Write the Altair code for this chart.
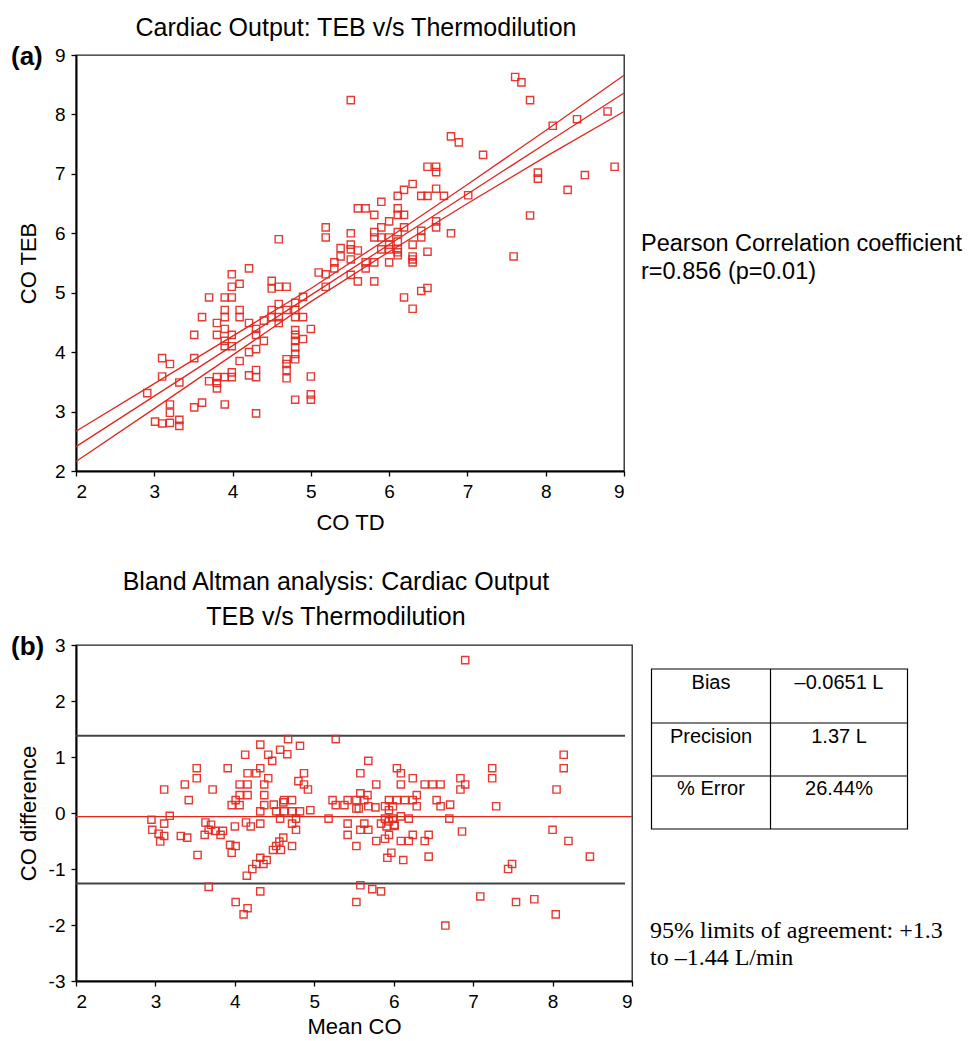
import altair as alt
import pandas as pd

RED = "#e3261c"
FONT = "Liberation Sans"

# ---------------- Panel (a): CO TEB vs CO TD ----------------
td_x = [5.51, 7.61, 7.69, 7.80, 8.79, 8.40, 8.09, 6.79, 6.89, 7.20, 8.88, 7.90, 7.90, 8.50, 8.28, 7.80, 7.59,
        6.49, 6.60, 6.60, 6.30, 6.19, 6.11, 6.41, 6.49, 6.70, 6.60, 7.01,
        5.90, 5.60, 5.70, 6.11, 5.81, 6.11, 6.19, 6.00, 5.90, 6.19, 6.60, 6.60,
        5.51, 5.81, 5.81, 5.90, 6.11, 6.41, 6.41, 6.79,
        5.51, 6.00, 6.00, 6.11, 6.30,
        5.51, 5.60, 5.90, 6.00, 6.11, 6.11, 6.30, 6.30, 6.49,
        5.51, 5.70, 5.81, 6.00, 6.11,
        5.51, 5.60, 5.81, 5.70, 6.30, 6.41, 6.49, 6.19, 6.30,
        5.19, 5.19, 4.59, 5.38, 5.38, 5.30,
        4.21, 3.99, 3.99, 4.09, 3.70, 3.90, 3.99, 4.50, 4.50, 4.59, 4.69, 5.10, 5.19, 5.30, 5.19,
        4.59, 4.69, 4.80, 4.80, 4.90, 4.50, 4.50, 4.59, 4.59, 4.40, 4.80, 4.90,
        3.90, 3.90, 4.09, 4.09, 4.21, 3.61, 3.80, 3.90, 3.80, 3.51, 3.99, 4.30, 4.30, 3.90, 3.90, 3.99, 4.40,
        4.80, 4.80, 4.80, 4.90, 5.00, 4.80, 4.30, 4.21, 4.80, 4.80, 4.69, 4.69, 4.69, 4.69, 4.09,
        3.10, 3.20, 3.51, 3.10, 3.32, 2.91, 3.70, 3.80, 3.80, 3.80, 3.90, 3.99, 3.99, 4.21, 4.30, 4.30,
        5.00, 5.00, 5.00, 4.80, 4.30, 3.90, 3.61, 3.51, 3.20, 3.20, 3.01, 3.10, 3.20, 3.32, 3.32]
teb_y = [8.24, 8.63, 8.54, 8.24, 8.05, 7.92, 7.81, 7.63, 7.53, 7.32, 7.12, 7.02, 6.92, 6.98, 6.73, 6.30, 5.61,
         7.12, 7.12, 7.03, 6.83, 6.73, 6.63, 6.63, 6.63, 6.63, 6.75, 6.64,
         6.53, 6.42, 6.42, 6.42, 6.31, 6.31, 6.31, 6.20, 6.10, 6.10, 6.20, 6.10,
         6.00, 6.02, 5.93, 5.93, 6.02, 6.04, 5.93, 6.00,
         5.81, 5.93, 5.81, 5.86, 5.81,
         5.73, 5.71, 5.73, 5.73, 5.73, 5.68, 5.61, 5.56, 5.69,
         5.56, 5.51, 5.51, 5.51, 5.63,
         5.30, 5.19, 5.19, 5.41, 5.51, 5.03, 5.08, 4.92, 4.73,
         6.10, 5.93, 5.90, 5.75, 5.61, 5.51,
         5.41, 5.31, 5.10, 5.15, 4.92, 4.92, 4.92, 5.20, 5.07, 5.10, 5.10, 5.34, 5.31, 5.41, 5.10,
         4.81, 4.71, 4.71, 4.83, 4.93, 4.71, 4.59, 4.59, 4.49, 4.53, 4.59, 4.59,
         4.71, 4.59, 4.71, 4.59, 4.49, 4.59, 4.49, 4.39, 4.29, 4.29, 4.29, 4.39, 4.29, 4.19, 4.10, 4.10, 4.19,
         4.37, 4.29, 4.19, 4.22, 4.39, 4.08, 4.05, 4.00, 3.97, 3.88, 3.88, 3.80, 3.70, 3.56, 3.85,
         3.90, 3.80, 3.90, 3.59, 3.49, 3.31, 3.51, 3.58, 3.48, 3.39, 3.58, 3.66, 3.58, 3.61, 3.70, 3.58,
         3.59, 3.29, 3.20, 3.20, 2.97, 3.12, 3.15, 3.07, 3.12, 2.98, 2.83, 2.80, 2.81, 2.86, 2.76]

band_x = [2, 3, 4, 5, 6, 7, 8, 9]
fit_upper = [2.67, 3.47, 4.27, 5.07, 5.93, 6.82, 7.73, 8.66]
fit_mid = [2.41, 3.26, 4.11, 4.96, 5.81, 6.66, 7.51, 8.36]
fit_lower = [2.16, 3.05, 3.95, 4.85, 5.69, 6.50, 7.29, 8.05]

# ---------------- Panel (b): Bland Altman ----------------
mean_co = [4.67, 5.27, 4.32, 4.57, 4.66, 4.82, 4.13, 4.42, 4.47, 3.52, 3.91, 4.32, 3.52, 4.16, 4.27, 4.42,
           4.87, 4.80, 4.87, 4.92, 3.11, 3.37, 3.72, 4.06, 4.16, 4.37, 3.42, 4.06, 4.16, 4.37, 4.01, 3.96,
           4.06, 4.37, 4.49, 4.61, 4.62, 4.72, 4.32, 4.52, 4.62, 4.72, 4.82, 4.95, 3.18, 2.95, 3.11, 5.18,
           5.23, 5.27, 5.38, 5.42, 5.53, 5.53, 5.42, 3.63, 3.70, 4.00, 4.14, 4.20, 4.32, 4.57, 4.72, 4.77,
           2.96, 3.04, 3.11, 3.06, 3.32, 3.40, 3.62, 3.67, 3.75, 3.82, 3.85, 3.94, 4.01, 3.96, 3.53, 4.77,
           4.72, 4.61, 4.56, 4.52, 4.48, 4.58, 4.40, 4.32, 4.36, 4.27, 4.22, 4.15, 3.67, 4.32, 4.01, 4.16,
           4.11, 5.42, 5.53, 5.53,
           5.58, 5.63, 5.68, 5.78, 5.84, 5.91, 5.89, 5.94, 5.92, 5.97, 6.01, 6.09, 6.12, 6.19, 6.24, 6.39,
           6.44, 6.44, 6.86, 8.00, 8.20, 8.47, 7.49, 7.44, 5.58, 5.73, 5.84, 7.09, 7.54, 7.77, 8.04, 6.65,
           6.90, 8.14, 8.14, 7.24, 7.24, 8.05, 7.29, 5.68, 5.58, 6.04, 6.09, 5.78, 6.09, 6.24, 6.39, 6.49,
           6.59, 6.84, 6.90, 6.84, 5.58, 5.67, 6.29, 5.63, 5.94, 6.04, 6.14, 6.24, 6.54, 5.56, 5.68, 5.77,
           5.89, 5.99, 6.29, 6.59, 6.71, 5.94, 5.89, 5.99, 6.09, 6.19, 6.70, 5.94, 6.01]
co_diff = [1.32, 1.32, 1.22, 1.13, 1.05, 1.20, 1.04, 1.04, 0.93, 0.80, 0.80, 0.80, 0.62, 0.71, 0.71, 0.62,
           0.71, 0.57, 0.51, 0.42, 0.42, 0.51, 0.42, 0.51, 0.51, 0.51, 0.23, 0.32, 0.32, 0.32, 0.23, 0.14,
           0.14, 0.14, 0.15, 0.19, 0.23, 0.23, 0.03, 0.03, 0.03, 0.03, 0.03, 0.05, -0.05, -0.12, -0.19, -0.10,
           0.23, 0.14, 0.14, 0.23, 0.23, 0.08, -0.19, -0.17, -0.21, -0.24, -0.17, -0.24, -0.19, -0.10, -0.19, -0.10,
           -0.30, -0.37, -0.41, -0.51, -0.41, -0.44, -0.39, -0.30, -0.32, -0.39, -0.32, -0.57, -0.59, -0.71, -0.75, -0.30,
           -0.59, -0.44, -0.51, -0.59, -0.66, -0.66, -0.84, -0.80, -0.91, -0.91, -1.00, -1.12, -1.32, -1.40, -1.59, -1.70,
           -1.81, -0.39, -0.59, -1.59,
           -0.30, -0.19, -0.30, -0.50, -0.19, -0.24, -0.46, -0.39, -0.80, -0.71, -0.23, -0.50, -0.84, -0.50, -0.39, -0.50,
           -0.39, -0.78, -0.33, -0.30, -0.50, -0.78, -0.91, -1.00, -1.29, -1.36, -1.40, -1.49, -1.59, -1.54, -1.81, -2.01,
           2.73, 1.04, 0.80, 0.80, 0.62, 0.42, 0.12, 0.93, 0.71, 0.80, 0.71, 0.51, 0.51, 0.62, 0.51, 0.51,
           0.51, 0.62, 0.51, 0.42, 0.35, 0.32, 0.32, 0.23, 0.23, 0.23, 0.23, 0.23, 0.23, 0.08, 0.12, 0.10,
           0.12, 0.12, 0.12, 0.12, 0.15, 0.05, -0.10, -0.10, -0.06, -0.10, -0.10, -0.15, -0.21]

bias = -0.0651
upper_loa = 1.38
lower_loa = -1.26

table_labels = ["Bias", "Precision", "% Error"]
table_values = ["\u20130.0651 L", "1.37 L", "26.44%"]

title_a = "Cardiac Output: TEB v/s Thermodilution"
title_b = ["Bland Altman analysis: Cardiac Output", "TEB v/s Thermodilution"]
pearson_text = ["Pearson Correlation coefficient", "r=0.856 (p=0.01)"]
loa_text = ["95% limits of agreement: +1.3", "to \u20131.44 L/min"]

# ---------------- build ----------------
one = pd.DataFrame({"k": [0]})
W1, H1 = 548, 416
W2, H2 = 556, 336


def txt(text, x, y, size, align="left", baseline="middle", weight="normal", font=FONT, line_height=None):
    kw = dict(text=text, align=align, baseline=baseline, fontSize=size, fontWeight=weight,
              font=font, color="black")
    if line_height is not None:
        kw["lineHeight"] = line_height
    return alt.Chart(one).mark_text(**kw).encode(x=alt.value(x), y=alt.value(y))


def anchor():
    return alt.Chart(one).mark_rule(strokeOpacity=0, strokeWidth=0.5).encode(
        x=alt.value(-67), x2=alt.value(-66.5), y=alt.value(-46), y2=alt.value(-45.5))


tick_vals = list(range(2, 10))
plain = "'' + datum.value"
xa = alt.X("x:Q", scale=alt.Scale(domain=[2, 9], nice=False, zero=False),
           axis=alt.Axis(values=tick_vals, title="CO TD", titlePadding=11, labelExpr=plain))
ya = alt.Y("y:Q", scale=alt.Scale(domain=[2, 9], nice=False, zero=False),
           axis=alt.Axis(values=tick_vals, title="CO TEB", titleX=-48, titleBaseline="middle",
                         labelExpr=plain))

pts_a = pd.DataFrame({"x": td_x, "y": teb_y})
band = pd.DataFrame({
    "x": band_x * 3,
    "y": fit_upper + fit_mid + fit_lower,
    "s": ["upper"] * len(band_x) + ["mid"] * len(band_x) + ["lower"] * len(band_x),
})

lines_a = alt.Chart(band).mark_line(color=RED, strokeWidth=1.3).encode(x=xa, y=ya, detail="s:N")
scatter_a = alt.Chart(pts_a).mark_point(shape="square", filled=False, color=RED, size=52,
                                        strokeWidth=1.4, opacity=0.9).encode(x=xa, y=ya)

top = alt.layer(
    anchor(),
    lines_a,
    scatter_a,
    txt(title_a, 280, -27, 25, align="center"),
    txt("(a)", -65, 2, 26, weight="bold"),
    txt(pearson_text, 565, 196, 23.5, baseline="alphabetic", line_height=28),
).properties(width=W1, height=H1)

xb = alt.X("x:Q", scale=alt.Scale(domain=[2, 9], nice=False, zero=False),
           axis=alt.Axis(values=tick_vals, title="Mean CO", titlePadding=5, labelExpr=plain))
yb = alt.Y("y:Q", scale=alt.Scale(domain=[-3, 3], nice=False, zero=False),
           axis=alt.Axis(values=list(range(-3, 4)), title="CO difference", titleX=-48,
                         titleBaseline="middle", labelExpr=plain))

pts_b = pd.DataFrame({"x": mean_co, "y": co_diff})
loa = pd.DataFrame({"y": [upper_loa, lower_loa]})
bias_df = pd.DataFrame({"y": [bias]})

loa_rules = alt.Chart(loa).mark_rule(color="#444444", strokeWidth=2).encode(
    y=yb, x=alt.value(0), x2=alt.value(549))
bias_rule = alt.Chart(bias_df).mark_rule(color=RED, strokeWidth=1.3).encode(
    y=yb, x=alt.value(0), x2=alt.value(W2))
scatter_b = alt.Chart(pts_b).mark_point(shape="square", filled=False, color=RED, size=52,
                                        strokeWidth=1.4, opacity=0.9).encode(x=xb, y=yb)

# table (positions relative to the plot area)
TX0, TX1, TXM = 575.5, 831.5, 694.5
TY0, TY1, TY2, TY3 = 24, 78, 131, 184
table_box = alt.Chart(one).mark_rect(fill="white", stroke="black", strokeWidth=1.2).encode(
    x=alt.value(TX0), x2=alt.value(TX1), y=alt.value(TY0), y2=alt.value(TY3))
table_lines = [
    alt.Chart(one).mark_rule(color="black", strokeWidth=1.2).encode(
        x=alt.value(TXM), x2=alt.value(TXM), y=alt.value(TY0), y2=alt.value(TY3)),
    alt.Chart(one).mark_rule(color="black", strokeWidth=1.2).encode(
        x=alt.value(TX0), x2=alt.value(TX1), y=alt.value(TY1), y2=alt.value(TY1)),
    alt.Chart(one).mark_rule(color="black", strokeWidth=1.2).encode(
        x=alt.value(TX0), x2=alt.value(TX1), y=alt.value(TY2), y2=alt.value(TY2)),
]
row_y = [38, 92, 144]
table_texts = []
for lab, val, ry in zip(table_labels, table_values, row_y):
    table_texts.append(txt(lab, (TX0 + TXM) / 2, ry, 20, align="center"))
    table_texts.append(txt(val, (TXM + TX1) / 2, ry, 20, align="center"))

bottom = alt.layer(
    loa_rules,
    bias_rule,
    scatter_b,
    table_box,
    *table_lines,
    *table_texts,
    txt(loa_text, 574, 293, 24, baseline="alphabetic", font="Liberation Serif", line_height=27),
    txt(title_b, 260, -55, 25, align="center", baseline="alphabetic", line_height=35),
    txt("(b)", -65, 2, 26, weight="bold"),
).properties(width=W2, height=H2)

chart = alt.vconcat(top, bottom, spacing=174, bounds="flush").properties(
    padding=0
).configure_view(
    stroke="#222222", strokeWidth=1.3
).configure_axis(
    grid=False, domainColor="black", domainWidth=2, tickColor="black", tickWidth=1.3,
    tickSize=5, labelPadding=6, labelFont=FONT, labelFontSize=19, labelColor="black",
    titleFont=FONT, titleFontSize=22, titleFontWeight="normal", titleColor="black",
).configure_concat(spacing=174)

chart.save("out.html", embed_options={"renderer": "svg", "actions": False})
